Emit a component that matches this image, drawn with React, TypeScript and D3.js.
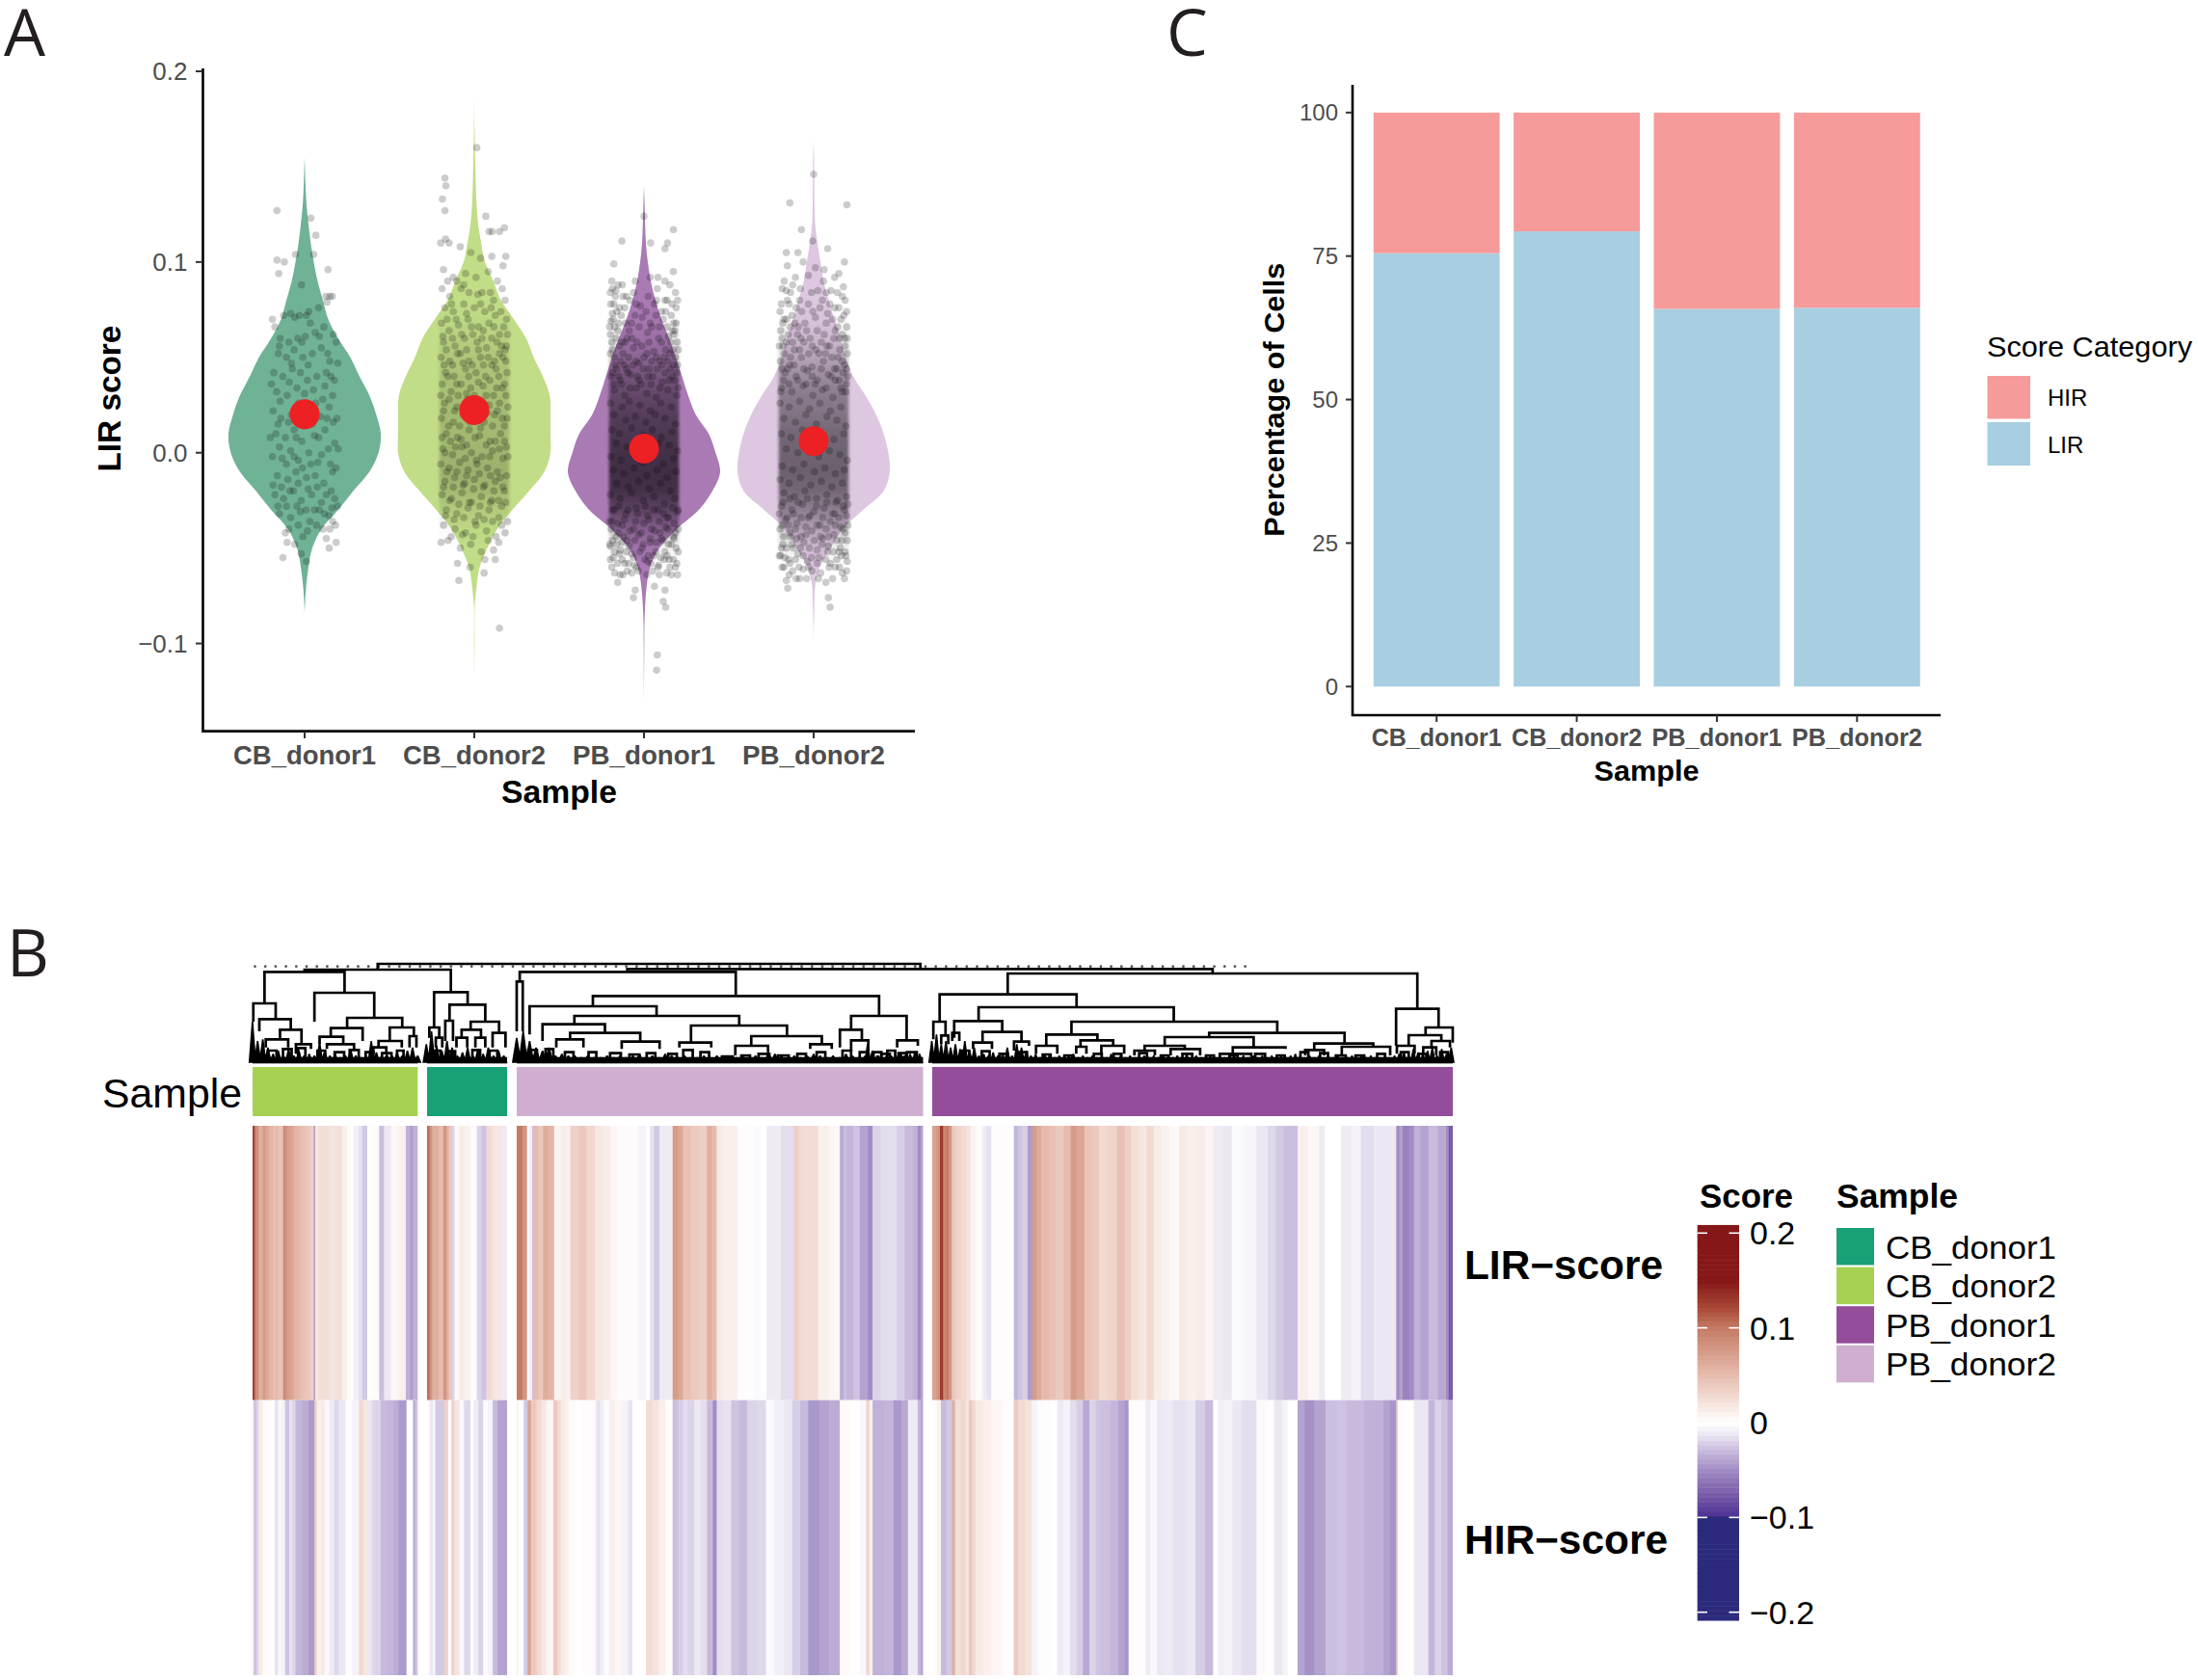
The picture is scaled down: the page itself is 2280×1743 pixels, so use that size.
import React from "react";
import * as d3 from "d3";

// ---------- shared ----------
const samples = ["CB_donor1", "CB_donor2", "PB_donor1", "PB_donor2"];
const sampleColors = ["#18a077", "#a6d153", "#944d9a", "#cfaed2"];
const violinFills = ["#70b296", "#c1dd87", "#aa7ab5", "#dec7e1"];

// ---------- panel A: density profiles [value, relative density] ----------
const violinCB1 = [[.155,0],[.15,.004],[.14,.012],[.13,.025],[.12,.05],[.11,.08],[.10,.12],[.09,.17],[.08,.24],[.07,.31],[.06,.44],[.05,.6],[.04,.72],[.03,.85],[.02,.94],[.01,1],[0,.97],[-.01,.85],[-.02,.64],[-.03,.44],[-.04,.22],[-.05,.1],[-.06,.05],[-.07,.02],[-.08,.004],[-.084,0]];
const violinCB2 = [[.186,0],[.17,.004],[.15,.014],[.14,.02],[.13,.03],[.12,.05],[.11,.09],[.10,.14],[.09,.25],[.08,.35],[.07,.52],[.06,.68],[.05,.78],[.04,.9],[.03,.99],[.02,1],[.01,1],[0,1],[-.01,.92],[-.02,.72],[-.03,.5],[-.04,.3],[-.05,.17],[-.06,.07],[-.07,.03],[-.08,.006],[-.1,.004],[-.118,0]];
const violinPB1 = [[.14,0],[.13,.008],[.12,.015],[.11,.025],[.10,.05],[.09,.09],[.08,.15],[.07,.23],[.06,.33],[.05,.42],[.04,.5],[.03,.58],[.02,.68],[.01,.85],[0,.94],[-.01,1],[-.02,.9],[-.03,.72],[-.04,.43],[-.05,.2],[-.06,.08],[-.07,.035],[-.08,.015],[-.09,.006],[-.1,.004],[-.13,0]];
const violinPB2 = [[.164,0],[.15,.008],[.13,.012],[.12,.02],[.11,.05],[.10,.09],[.09,.13],[.08,.2],[.07,.27],[.06,.35],[.05,.42],[.04,.52],[.03,.68],[.02,.82],[.01,.92],[0,.98],[-.01,1],[-.02,.92],[-.03,.65],[-.04,.38],[-.05,.22],[-.06,.08],[-.07,.02],[-.08,.01],[-.1,0]];
const violins = [violinCB1, violinCB2, violinPB1, violinPB2];
const means = [.0202, .0224, .0022, .0061];

// cloud darkness per value level
const shadeLevels = [.09,.08,.07,.06,.05,.04,.03,.02,.01,0,-.01,-.02,-.03,-.04,-.05,-.06];
const shadeCB1 = [0,0,0,0,0,0,0,0,0,0,0,0,0,0,0,0];
const shadeCB2 = [0,0,.02,.06,.1,.12,.14,.16,.16,.18,.2,.16,.08,.02,0,0];
const shadePB1 = [0,0,.02,.08,.18,.32,.42,.5,.55,.6,.62,.6,.45,.22,.05,0];
const shadePB2 = [0,0,.02,.08,.18,.3,.38,.42,.48,.5,.52,.48,.36,.2,.06,0];
const shades = [shadeCB1, shadeCB2, shadePB1, shadePB2];

// individual visible points: flat [jitter %, value in thousandths, ...]
const ptsCB1 = [-79,127,18,123,32,114,-79,101,-58,100,-74,94,-26,104,26,104,67,96,-9,88,61,82,79,82,72,82,-92,70,-60,72,-40,73,-28,71,-15,72,5,72,12,74,40,76,64,79,-85,66,-70,60,-45,58,-20,60,2,61,30,63,55,66,82,62,-75,52,-52,50,-30,54,-5,50,22,52,48,55,72,48,90,58,-88,42,-62,40,-35,44,-12,42,10,46,35,40,62,42,85,38,-80,32,-50,30,-22,34,0,31,25,33,52,28,80,30,-90,22,-68,18,-38,20,18,22,45,19,70,24,92,18,-82,10,-55,8,-30,12,-8,6,28,9,58,12,86,5,-92,-2,-64,-3,-40,1,-18,-4,12,0,38,-5,68,2,90,-8,-78,-12,-48,-14,-25,-10,5,-13,30,-12,55,-16,80,-10,-85,-22,-60,-24,-32,-20,-10,-25,20,-22,48,-26,76,-20,94,-28,-72,-32,-40,-34,-12,-31,15,-36,42,-30,70,-33,88,-38,-55,-42,-28,-48,-5,-44,62,-45,80,-36,-50,-47,90,-47,-62,-55,-10,-53,5,-57,70,-50,
-72,56,-38,47,-8,58,16,68,42,61,66,52,95,47,-95,36,-70,27,-44,37,-16,26,8,38,32,26,58,35,75,40,-76,15,-46,16,-24,8,-2,14,22,15,40,8,64,18,82,16,-98,8,-72,3,-52,-6,-30,-2,-6,-8,18,-6,48,-1,74,-6,96,2,-90,-17,-66,-18,-42,-20,-18,-16,10,-19,36,-18,62,-22,86,-24,-76,-28,-52,-28,-22,-28,4,-30,28,-30,56,-32,78,-29,-45,-40,-18,-38,8,-41,34,-38,52,-40,72,-40];
const ptsCB2 = [7,160,-84,144,-81,140,-91,133,-84,127,33,124,51,116,86,118,42,116,72,116,-96,110,-82,112,-72,110,-40,108,-10,105,18,102,50,103,82,98,90,103,-88,96,-60,92,-50,90,-25,94,5,92,40,95,66,90,80,86,-92,86,-70,82,-38,86,-15,84,22,84,55,80,88,80,-84,76,-60,74,-30,78,0,76,30,74,60,72,92,70,-94,68,-72,64,-45,67,-18,70,12,66,42,68,72,62,95,62,-88,58,-55,56,-28,60,8,58,35,55,65,58,88,54,-95,50,-70,48,-40,52,-15,48,18,50,50,46,82,50,-82,42,-58,40,-25,44,5,42,32,40,62,44,94,42,-92,36,-66,32,-38,36,-10,34,25,35,55,30,80,34,-85,26,-50,24,-20,28,10,26,42,25,72,26,96,24,-94,18,-60,16,-32,20,-5,18,28,16,58,20,86,14,-80,10,-48,8,-15,12,15,9,45,6,75,10,92,3,-90,2,-62,-1,-35,3,-8,0,22,-2,52,1,82,-3,-96,-6,-72,-8,-42,-5,-18,-9,8,-6,38,-8,66,-10,92,-12,-84,-15,-56,-13,-28,-16,0,-14,30,-17,60,-15,86,-20,-92,-22,-65,-24,-35,-21,-8,-26,20,-23,50,-25,78,-28,-80,-30,-50,-32,-18,-29,12,-33,42,-30,70,-34,95,-36,-88,-38,-55,-40,-25,-42,5,-38,35,-41,62,-44,88,-42,-95,-47,-75,-46,-40,-50,-10,-48,20,-52,55,-51,-48,-58,-12,-60,30,-56,-44,-67,28,-63,60,-56,72,-92,
-76,90,-30,88,10,83,46,84,-65,78,-22,73,18,78,48,76,76,74,-78,70,-52,70,-8,66,26,64,56,66,84,66,-90,61,-62,60,-36,62,-4,62,22,60,50,60,78,56,-80,54,-48,52,-22,54,12,54,40,50,72,52,92,56,-86,46,-62,46,-32,47,-6,46,26,46,58,48,90,48,-76,40,-50,36,-16,40,12,37,44,38,70,40,86,36,-96,30,-72,28,-46,30,-22,31,0,30,34,30,64,34,90,30,-88,22,-56,22,-26,24,4,22,36,21,66,22,94,18,-74,14,-42,14,-12,16,18,13,52,14,80,18,-92,8,-68,6,-38,7,-22,4,2,8,34,4,60,6,86,6,-84,0,-54,3,-26,-3,6,-4,44,-2,72,2,96,-2,-78,-10,-50,-10,-22,-12,14,-11,46,-12,74,-13,-88,-18,-60,-18,-32,-17,-2,-19,26,-18,56,-20,82,-18,-70,-25,-44,-27,-14,-26,16,-28,46,-26,70,-25,90,-26,-82,-33,-58,-35,-30,-34,2,-36,28,-35,52,-36,78,-38,-66,-44,-34,-43,-4,-44,40,-46,70,-47];
const ptsPB1 = [0,124,-63,111,84,117,67,110,19,110,60,107,-86,99,-90,86,-80,85,-62,88,-50,82,-25,90,18,92,38,86,60,90,84,95,66,80,-95,78,-70,76,-40,80,-10,77,30,78,50,74,92,76,-88,70,-65,72,-35,68,-5,71,22,66,55,70,85,68,-96,62,-75,64,-48,60,-20,58,10,63,42,60,70,61,95,58,-90,54,-60,52,-30,55,0,50,28,53,58,50,82,54,-82,46,-50,44,-15,47,15,44,45,48,75,44,96,46,-94,40,-68,38,-38,41,-8,36,25,40,52,37,88,38,-84,33,-55,30,-22,34,8,31,35,29,68,33,94,30,-96,26,-62,24,-42,27,-12,25,18,22,48,26,78,24,-86,20,-52,17,-25,19,5,16,32,20,60,18,90,15,-92,12,-70,10,-35,13,-2,9,24,12,50,8,80,11,-80,5,-48,3,-18,6,12,2,42,5,72,4,96,1,-95,-2,-65,-4,-32,-1,-5,-5,20,-2,55,-6,85,-3,-88,-9,-58,-11,-28,-8,8,-12,38,-9,66,-13,92,-10,-78,-16,-45,-18,-15,-15,15,-19,48,-16,76,-20,-96,-22,-68,-24,-36,-21,-2,-25,28,-23,58,-27,88,-24,-85,-30,-52,-32,-22,-29,10,-33,40,-30,70,-34,96,-31,-92,-36,-62,-38,-30,-40,0,-37,30,-41,62,-39,90,-42,-80,-44,-48,-46,-15,-43,18,-47,50,-45,78,-48,-96,-49,-68,-51,-35,-53,-5,-50,28,-54,60,-52,92,-50,-88,-55,-55,-58,-22,-60,10,-57,42,-59,72,-56,-92,-60,-60,-64,-35,-63,25,-62,65,-63,90,-60,-75,-68,-25,-72,30,-70,60,-72,-30,-76,55,-78,62,-81,38,-106,36,-114,
-92,90,-82,82,-74,88,-96,84,-86,78,-60,82,-30,84,40,92,74,88,90,84,-78,74,-90,73,-55,76,-22,78,12,82,36,80,60,80,80,78,96,80,-84,66,-72,68,-94,69,-52,68,-26,72,6,74,34,72,62,74,78,72,88,64,-98,66,-80,60,-62,58,-42,64,-14,66,18,68,44,66,66,66,82,64,92,68,-92,58,-70,56,-54,58,-34,60,-6,56,14,58,50,58,76,58,86,62,98,54,-84,50,-66,48,-44,50,-22,48,8,52,36,50,62,54,74,52,90,50,-96,52,-78,44,-56,46,-32,46,-2,44,22,48,52,46,68,48,84,46,-90,42,-72,40,-46,42,-18,40,12,40,38,44,60,42,80,40,94,42,-86,36,-64,36,-40,34,-14,38,20,36,46,34,72,38,98,34,
-90,-30,-72,-28,-46,-30,-18,-32,4,-28,28,-30,56,-32,82,-29,98,-30,-98,-36,-76,-37,-56,-35,-24,-36,14,-35,44,-36,66,-34,86,-37,-94,-40,-74,-42,-58,-44,-40,-41,-8,-42,22,-40,46,-42,68,-40,84,-44,98,-40,-90,-46,-78,-48,-62,-47,-42,-49,-26,-46,-2,-48,18,-45,36,-47,54,-46,70,-48,86,-45,-98,-48,-84,-52,-70,-53,-50,-52,-30,-55,-12,-52,12,-54,34,-52,48,-55,66,-54,84,-56,98,-52,-96,-56,-76,-58,-62,-56,-44,-58,-28,-59,2,-56,20,-58,40,-60,58,-56,74,-60,94,-58,-84,-63,-68,-64,-48,-62,-16,-62,8,-64,44,-64,78,-64,96,-64];
const ptsPB2 = [0,146,-68,131,95,130,-35,117,-3,111,-78,105,-45,105,40,107,-75,98,-30,100,5,97,88,100,-15,93,28,90,60,92,-90,86,-78,85,-60,88,-38,86,12,85,50,85,85,87,-92,78,-75,80,-50,76,-15,78,25,80,60,76,90,80,-85,70,-62,72,-25,68,5,71,40,73,78,70,95,66,-94,64,-72,62,-44,66,-10,60,30,62,62,64,88,60,-88,56,-55,54,-28,58,15,52,45,56,75,54,96,52,-95,48,-68,46,-35,50,-5,45,28,48,60,44,88,46,-82,42,-50,40,-18,43,10,38,42,41,72,38,94,36,-92,34,-62,32,-30,35,-2,30,25,33,55,29,82,32,-96,26,-70,24,-40,27,-12,23,18,26,48,22,78,24,-85,18,-52,16,-22,20,8,15,38,19,66,17,92,14,-92,10,-65,8,-32,12,-5,6,28,9,58,7,86,10,-78,2,-45,0,-15,3,15,-2,45,1,75,-1,96,-4,-90,-7,-60,-9,-28,-6,2,-10,32,-8,62,-11,88,-9,-96,-14,-70,-16,-38,-13,-8,-17,22,-15,52,-18,82,-16,-85,-21,-55,-23,-25,-20,8,-24,38,-22,68,-25,94,-23,-92,-28,-62,-30,-32,-27,0,-31,30,-29,60,-32,88,-30,-80,-35,-48,-37,-15,-34,18,-38,48,-36,78,-39,-96,-40,-68,-42,-36,-44,-5,-41,25,-45,58,-43,90,-42,-88,-48,-58,-50,-28,-47,10,-51,42,-49,72,-52,-94,-54,-72,-56,-45,-53,-18,-57,15,-55,48,-58,80,-54,96,-57,-85,-60,-60,-62,-30,-61,20,-63,62,-60,82,-63,-78,-67,-40,-66,-5,-62,35,-68,-74,-71,42,-76,47,-81,
-84,90,-66,84,-52,92,30,96,72,94,82,82,-70,78,-96,74,-40,80,-6,84,36,84,68,84,94,74,-78,70,-54,68,-34,74,-2,74,18,76,46,78,72,76,86,72,-88,68,-66,66,-46,62,-20,64,10,64,36,68,54,70,68,66,82,62,96,60,-90,60,-78,58,-60,58,-36,60,-4,56,22,58,38,56,58,60,74,60,90,56,-98,56,-84,52,-66,50,-40,54,-14,52,6,54,34,52,52,50,70,50,82,48,94,44,-90,44,-74,44,-56,46,-28,44,-4,40,22,44,50,40,66,44,84,42,98,40,-86,38,-70,36,-46,38,-22,36,4,36,36,34,62,38,78,34,92,32,-94,32,
-88,-26,-68,-24,-44,-26,-18,-24,8,-28,38,-26,64,-26,84,-28,98,-27,-98,-32,-76,-34,-58,-32,-36,-34,-10,-33,26,-34,54,-32,72,-34,94,-33,-90,-38,-72,-38,-52,-40,-22,-39,10,-38,36,-40,62,-38,84,-40,98,-38,-86,-44,-66,-44,-48,-45,-22,-43,2,-46,20,-44,42,-44,66,-46,80,-46,96,-46,-92,-50,-78,-50,-62,-48,-38,-50,-12,-50,24,-48,40,-52,56,-52,76,-50,90,-52,-98,-54,-82,-55,-52,-56,-30,-54,-6,-55,34,-56,66,-56,92,-54,-90,-60,-68,-58,-42,-60,-14,-60,10,-58,44,-60,74,-60,94,-62,-70,-64,-50,-66,-20,-66,14,-66,54,-66,88,-66];
const pointSets = [ptsCB1, ptsCB2, ptsPB1, ptsPB2];

// ---------- panel C ----------
const lirPercent = [75.5, 79.3, 65.8, 66.0];
const percentTicks = [0, 25, 50, 75, 100];
const categories = ["HIR", "LIR"];
const categoryColors = ["#f69a9a", "#a8cee1"];

// ---------- panel B: stripes [end position along the reading, score] ----------
const lirBlock1 = [[21,.12],[26,.13],[30,.105],[40,.085],[52,.06],[62,.075],[72,.065],[85,.055],[92,.048],[100,.052],[116,.045],[122,.09],[130,.08],[140,.072],[150,.066],[165,.055],[175,.05],[185,.046],[200,.042],[212,.035],[215,-.06],[225,.018],[235,.024],[260,.025],[280,.02],[300,.023],[315,.012],[325,.004],[335,.001],[350,-.008],[362,-.014],[378,-.024],[400,.002],[415,.004],[430,-.028],[452,-.012],[470,.005],[480,.009],[498,.012],[512,-.035],[520,-.044],[535,-.034]];
const hirBlock1 = [[21,.014],[25,.014],[32,-.028],[40,-.02],[52,.014],[70,.004],[90,.002],[100,-.014],[112,-.004],[122,-.006],[135,-.026],[145,-.014],[155,-.02],[175,-.032],[195,-.036],[214,-.044],[222,.032],[235,.012],[245,.016],[260,-.004],[275,-.01],[290,-.018],[310,-.012],[330,.002],[352,-.006],[366,.028],[378,.018],[392,-.012],[400,-.018],[420,-.02],[440,-.03],[460,-.032],[475,-.036],[500,-.044],[520,.002],[528,-.034],[535,-.026]];
const lirBlock2 = [[564,.09],[572,.105],[580,.08],[600,.06],[615,.05],[625,.08],[632,.06],[642,.042],[650,-.02],[665,.005],[680,.014],[700,.01],[720,.003],[735,-.02],[750,-.026],[765,.028],[775,.022],[800,.018],[815,-.01]];
const hirBlock2 = [[564,.003],[572,.003],[582,-.012],[590,-.006],[618,-.024],[630,.034],[640,.002],[650,.034],[665,.02],[680,-.004],[700,-.018],[710,.003],[725,-.01],[740,-.02],[755,.004],[770,-.006],[785,-.03],[815,-.04]];
const lirBlock3 = [[18,.09],[36,.1],[50,.08],[55,.0],[66,-.008],[72,-.028],[85,.05],[100,.042],[115,.062],[130,.056],[135,.05],[155,.008],[170,.014],[185,.012],[210,.034],[235,.04],[262,.03],[285,.018],[310,.014],[335,.005],[395,.003],[420,-.006],[432,0],[445,-.014],[462,-.024],[503,-.01],[520,.074],[535,.066],[560,.046],[585,.04],[610,.036],[625,.06],[640,.05],[660,.016],[705,.012],[755,.002],[775,-.003],[795,-.001],[840,-.01],[880,-.016],[895,.036],[910,.028],[955,.026],[990,.012],[1023,.006],[1035,-.036],[1045,-.028],[1065,-.032],[1085,-.026],[1110,-.04],[1125,-.05],[1150,-.02],[1175,-.016],[1200,-.016],[1225,-.022],[1250,-.03],[1265,-.034],[1275,-.05],[1282,-.04]];
const hirBlock3 = [[18,.012],[22,.012],[32,0],[40,-.002],[52,-.024],[62,.07],[80,.04],[95,.028],[110,.018],[132,.007],[145,.04],[155,.026],[170,.014],[180,.01],[200,.004],[220,0],[245,.002],[265,.003],[278,-.014],[290,-.008],[305,-.002],[325,.012],[345,.006],[365,-.006],[378,-.014],[420,0],[440,.026],[460,.02],[480,.012],[503,.003],[520,-.028],[535,-.022],[550,-.016],[570,-.02],[590,-.012],[610,-.016],[628,-.03],[640,-.05],[660,-.016],[685,-.014],[710,-.026],[735,-.03],[765,-.02],[793,-.018],[820,-.003],[850,-.008],[875,-.012],[900,-.022],[925,-.03],[960,-.045],[990,-.04],[1023,-.036],[1053,.004],[1085,.002],[1105,-.004],[1115,.032],[1125,.01],[1160,-.034],[1190,-.032],[1215,-.045],[1235,-.038],[1265,-.01],[1275,-.032],[1282,-.04]];
const lirBlock4 = [[21,.07],[35,.07],[45,.08],[55,.13],[64,.09],[72,.1],[82,.08],[95,.04],[110,.032],[125,.028],[140,.022],[155,.01],[178,.004],[190,-.01],[205,-.014],[250,.002],[275,-.002],[288,-.032],[300,-.026],[318,-.022],[332,-.044],[345,.075],[360,.064],[385,.052],[405,.046],[430,.04],[452,.05],[470,.075],[495,.066],[520,.044],[540,.04],[565,.028],[595,.032],[620,.046],[640,.036],[665,.024],[688,.018],[710,.028],[735,.014],[760,.01],[790,.005],[815,.016],[840,.012],[870,.014],[895,.008],[925,-.01],[953,-.012],[990,-.003],[1030,-.005],[1065,-.012],[1090,-.018],[1115,-.024],[1158,-.028],[1190,.012],[1225,.006],[1243,-.01],[1293,0],[1325,-.01],[1355,-.006],[1395,-.016],[1430,-.012],[1465,-.012],[1475,-.05],[1485,-.042],[1505,-.055],[1520,-.05],[1540,-.034],[1565,-.04],[1595,-.03],[1620,-.038],[1628,-.05],[1641,-.075]];
const hirBlock4 = [[21,.008],[35,.002],[48,.01],[65,-.03],[82,-.024],[92,.06],[110,.024],[125,.03],[135,.02],[145,.04],[155,.03],[180,.016],[205,.012],[240,.006],[275,.002],[288,.04],[310,.028],[330,.022],[350,-.006],[370,-.002],[390,.002],[410,0],[430,-.01],[450,-.006],[470,-.016],[490,-.022],[510,-.038],[530,-.02],[545,-.026],[575,-.028],[600,-.032],[620,-.04],[632,-.046],[660,.003],[685,.002],[700,-.01],[720,-.004],[745,-.012],[770,-.01],[810,-.014],[840,-.012],[870,-.022],[895,-.03],[910,.0],[930,-.008],[955,-.006],[985,-.012],[1030,-.016],[1060,.004],[1085,.002],[1110,-.012],[1127,-.006],[1158,0],[1180,-.04],[1210,-.048],[1245,-.04],[1280,-.028],[1310,-.026],[1340,-.03],[1365,-.03],[1395,-.034],[1425,-.034],[1445,-.04],[1465,-.046],[1470,.034],[1490,.003],[1520,.001],[1540,-.012],[1565,-.012],[1585,-.032],[1605,-.02],[1625,-.026],[1641,-.036]];
const blockOrder = [1, 0, 3, 2]; // sample index of each block, left to right
const lirRows = [lirBlock1, lirBlock2, lirBlock3, lirBlock4];
const hirRows = [hirBlock1, hirBlock2, hirBlock3, hirBlock4];
const scoreTicks = [.2, .1, 0, -.1, -.2];
const scoreTickLabels = ["0.2", "0.1", "0", "\u22120.1", "\u22120.2"];

// dendrogram merges [left, right, top, leftChildTop, rightChildTop] in reading units
const mergesLeft = [
[340,1601,60,75,72],[170,510,78,85,148],[77,263,85,183,150],[51,103,183,240,232],[65,138,232,270,265],[113,163,265,295,310],[80,132,295,320,320],[193,332,150,240,228],[269,397,228,260,258],[231,305,260,287,300],[205,260,287,310,310],[222,285,310,325,325],[368,424,258,300,285],[342,396,300,320,320],[414,430,285,320,320],[330,360,320,340,340],[150,185,310,340,325],
[471,549,148,258,187],[507,590,187,237,240],[497,515,237,300,300],[556,622,240,265,275],[535,580,265,290,290],[523,548,290,320,320],[567,590,290,320,320],[607,637,275,320,320],[460,483,258,290,290],[475,490,290,320,320],
[920,2280,76,85,90],[670,1172,85,115,160],[663,677,115,270,270],[840,1505,160,192,222],[693,988,192,280,222],[797,1180,222,248,252],[723,868,248,300,275],[787,950,275,295,302],[755,818,295,320,320],[907,995,302,325,325],[1068,1291,252,305,285],[1041,1115,305,320,320],[1208,1372,285,315,310],[1171,1247,315,345,335],[1345,1395,310,325,325],[1440,1569,222,265,298],[1414,1465,265,320,298],[1440,1480,298,330,330],[1547,1595,298,320,315],
[85,105,330,352,352],[120,140,325,352,352],[155,172,322,352,352],[200,218,330,352,352],[240,262,335,352,352],[275,296,328,352,352],[312,330,335,352,352],[350,372,338,352,352],[385,400,330,352,352],[470,486,330,352,352],[505,520,332,352,352],[560,578,328,352,352],[600,618,330,352,352],[690,710,328,352,352],[730,748,325,352,352],[775,795,335,352,352],[830,848,335,352,352],[880,905,338,352,352],[925,948,342,352,352],[965,985,338,352,352],[1015,1035,340,352,352],[1050,1072,328,352,352],[1090,1110,335,352,352],[1140,1165,348,358,358],[1185,1205,345,358,358],[1225,1250,340,352,352],[1270,1295,345,358,358],[1315,1335,340,352,352],[1360,1380,335,352,352],[1420,1440,330,352,352],[1460,1480,335,352,352],[1510,1530,340,352,352],[1550,1568,338,352,352]];
const mergesRight = [
[356,1397,90,155,200],[183,531,155,240,195],[282,778,195,238,240],[220,342,238,290,272],[292,391,272,305,302],[268,316,305,325,325],[372,410,302,330,315],[518,1041,240,280,272],[454,584,280,315,298],[428,482,315,340,340],[541,624,298,318,315],[530,556,318,340,340],[594,652,315,340,340],[868,1212,275,288,305],[755,981,288,315,320],[704,806,315,330,325],[678,730,330,345,345],[770,845,325,345,345],[928,1062,320,340,325],[895,975,340,350,350],[1135,1285,308,328,318],[1112,1160,328,345,345],[1205,1328,318,345,345],[167,198,240,295,283],[187,205,283,310,310],[215,233,275,300,300],
[1343,1451,200,315,258],[1418,1487,258,282,305],[1375,1458,282,315,300],[1345,1390,315,340,340],[1433,1480,300,320,320],[1412,1445,320,345,345],
[15,35,335,352,352],[50,70,330,352,352],[100,125,335,352,352],[240,258,330,352,352],[290,310,332,352,352],[335,355,340,352,352],[385,405,335,352,352],[445,465,342,352,352],[500,520,345,358,358],[575,595,340,352,352],[625,645,340,352,352],[690,710,338,352,352],[745,765,345,358,358],[800,825,340,352,352],[860,880,345,358,358],[920,940,345,358,358],[985,1010,340,352,352],[1040,1060,345,358,358],[1100,1120,335,352,352],[1150,1170,338,352,352],[1190,1215,345,358,358],[1240,1262,345,358,358],[1295,1315,340,352,352],[1355,1375,335,352,352],[1400,1420,340,352,352],[1455,1475,335,352,352]];
// canopy of the smallest merges: [start, step, heights]
const canopyLeft = [
[49,12,[240,300,295,320,340,330,345,325,345,330,345,340,345,305,330,345,340,350,345,325,345,350,345,300,335,345,340,345,335,345,330,320,345]],
[453,12,[310,270,315,330,300,320,345,335,320,345,325,340,320,345,330,345]],
[663,15,[290,270,300,320,330,320,345,340,345,345,350,345,350,350,345,350,345,350,345,340,350,345,350,340,345,350,345,350,350,345,350,345,350,345,350,345,350,345,350,335,340,345,350,345,350,345,340,345,350,345,350,340,345,350,345,350,345,350,345,350,345]]];
const canopyRight = [
[0,12,[310,330,345,350,345,350,345,335,345,340,335,340]],
[163,12,[300,280,310,300,320,310,325,300,330,320,345,340,345,335,345,340,320,345,310,320,330,345,340,350,345,340,350,345,350,345,340,350,345,350,345,350,345,350,340,350,345,350,345,350,350,345,350,345,350,345,350,350,345,350,340,350,345,350,350,345,350,345,350,345,345,350,345,350,345,350,345,350,345,350,345,350,345,340,345,350,345,350,345,350,345,350,345,350,350,345,350,345,350,345,350,350,345,350,345,340,335,345,325,335,340,330,320,345,325,340,320]]];

// ---------- helpers ----------
const FONT = "'Liberation Sans', Arial, sans-serif";
function T({ x, y, s, size, bold, fill = "#000", anchor = "start", len, rot, font = FONT }: any) {
  return (
    <text x={x} y={y} fontFamily={font} fontSize={size} fontWeight={bold ? 700 : 400} fill={fill} textAnchor={anchor}
      dominantBaseline="central" textLength={len} lengthAdjust={len ? "spacingAndGlyphs" : undefined}
      transform={rot ? `rotate(${rot} ${x} ${y})` : undefined}>{s}</text>
  );
}

function PanelA() {
  const y = d3.scaleLinear().domain([-.1, .2]).range([667.6, 74]);
  const x = d3.scalePoint().domain(samples).range([316, 844]);
  const hw = 79;
  const jitter = 36.3;
  return (
    <g>
      <defs>
        <filter id="soft" x="-10%" y="-10%" width="120%" height="120%"><feGaussianBlur stdDeviation="1.5" /></filter>
        {shades.map((sh, i) => (
          <linearGradient key={i} id={`shade${i}`} x1="0" x2="0" y1="0" y2="1">
            {sh.map((o, j) => <stop key={j} offset={j / (sh.length - 1)} stopColor="#000" stopOpacity={o} />)}
          </linearGradient>
        ))}
      </defs>
      {samples.map((s, i) => {
        const c = x(s)!;
        const area = d3.area<number[]>().y(d => y(d[0])).x0(d => c - d[1] * hw).x1(d => c + d[1] * hw).curve(d3.curveCatmullRom.alpha(0.5));
        const pts = pointSets[i];
        return (
          <g key={s}>
            <path d={area(violins[i] as any) || ""} fill={violinFills[i]} />
            <rect x={c - jitter} width={jitter * 2} y={y(shadeLevels[0])} height={y(shadeLevels[shadeLevels.length - 1]) - y(shadeLevels[0])} fill={`url(#shade${i})`} filter="url(#soft)" />
            {d3.range(0, pts.length, 2).map(k => (
              <circle key={k} cx={c + pts[k] / 100 * jitter} cy={y(pts[k + 1] / 1000)} r={3.8} fill="#000" fillOpacity={0.2} />
            ))}
            <circle cx={c} cy={y(means[i])} r={15.5} fill="#ed2024" />
          </g>
        );
      })}
      <path d="M210.5,71V758.6H949" fill="none" stroke="#000" strokeWidth={2.6} />
      {[.2, .1, 0, -.1].map((t, i) => (
        <g key={t}>
          <line x1={203} x2={210} y1={y(t)} y2={y(t)} stroke="#333" strokeWidth={2} />
          <T x={194.5} y={y(t)} s={["0.2", "0.1", "0.0", "\u22120.1"][i]} size={26} anchor="end" fill="#4d4d4d" />
        </g>
      ))}
      {samples.map(s => (
        <g key={s}>
          <line x1={x(s)} x2={x(s)} y1={759} y2={766} stroke="#333" strokeWidth={2} />
          <T x={x(s)} y={784} s={s} size={27} bold anchor="middle" fill="#4d4d4d" len={148} />
        </g>
      ))}
      <T x={580} y={821} s="Sample" size={33} bold anchor="middle" len={120} />
      <T x={113.5} y={413.6} s="LIR score" size={33} bold anchor="middle" rot={-90} len={152} />
    </g>
  );
}

function PanelC() {
  const y = d3.scaleLinear().domain([0, 100]).range([712.3, 116.8]);
  const x = d3.scaleBand().domain(samples).range([1417.5, 1999]).paddingInner(0.1).paddingOuter(0.05);
  const stack = d3.stack<any>().keys(["LIR", "HIR"])(lirPercent.map(v => ({ LIR: v, HIR: 100 - v })));
  return (
    <g>
      {stack.map((layer, li) => layer.map((d, i) => (
        <rect key={`${li}-${i}`} x={x(samples[i])} width={x.bandwidth()} y={y(d[1])} height={y(d[0]) - y(d[1])}
          fill={layer.key === "HIR" ? categoryColors[0] : categoryColors[1]} />
      )))}
      <path d="M1403,88V742H2013" fill="none" stroke="#000" strokeWidth={2.6} />
      {percentTicks.map(t => (
        <g key={t}>
          <line x1={1396} x2={1403} y1={y(t)} y2={y(t)} stroke="#333" strokeWidth={2} />
          <T x={1388} y={y(t)} s={t} size={24} anchor="end" fill="#4d4d4d" />
        </g>
      ))}
      {samples.map(s => (
        <g key={s}>
          <line x1={x(s)! + x.bandwidth() / 2} x2={x(s)! + x.bandwidth() / 2} y1={742} y2={749} stroke="#333" strokeWidth={2} />
          <T x={x(s)! + x.bandwidth() / 2} y={765} s={s} size={25} bold anchor="middle" fill="#4d4d4d" len={135} />
        </g>
      ))}
      <T x={1708} y={799} s="Sample" size={30} bold anchor="middle" len={109} />
      <T x={1322} y={414.7} s="Percentage of Cells" size={30} bold anchor="middle" rot={-90} len={284} />
      <T x={2061} y={359} s="Score Category" size={30} len={213} />
      {categories.map((c, i) => (
        <g key={c}>
          <rect x={2061.5} width={44.5} y={i === 0 ? 390 : 438} height={i === 0 ? 44.5 : 45} fill={categoryColors[i]} />
          <T x={2124} y={i === 0 ? 412.5 : 461} s={c} size={24} />
        </g>
      ))}
    </g>
  );
}

function PanelB() {
  const blocks = [[262, 433.3], [443, 526], [536, 957.5], [967, 1507]];
  const color = d3.scaleLinear<string>()
    .domain([-.2, -.1001, -.1, -.075, -.05, -.025, -.0125, 0, .05, .1, .12, .15, .2])
    .range(["#2b2a7c", "#2b2a7c", "#4a2f93", "#7a5ca8", "#a28cc5", "#d0c6e2", "#ebe6f2", "#ffffff", "#e7bcae", "#c47a64", "#aa4b38", "#861718", "#861718"]);
  const rows: [any[][], number, number][] = [[lirRows, 1168, 1452.7], [hirRows, 1452.7, 1738]];
  const lx = d3.scaleLinear().domain([0, 1568]).range([240, 940]);
  const rx = d3.scaleLinear().domain([0, 1568]).range([900, 1540]);
  const hy = d3.scaleLinear().domain([0, 1500]).range([980, 1480]);
  const u = (m: number[], sx: any) => `M${sx(m[0])},${hy(m[3])}V${hy(m[2])}H${sx(m[1])}V${hy(m[4])}`;
  const canopy = (c: any, sx: any) => {
    const halfStep = Math.abs(sx(c[1]) - sx(0)) * 0.75;
    const d = c[2].map((h: number, i: number) => {
      const xm = sx(c[0] + i * c[1]);
      return `M${xm - halfStep},${hy(368)}L${xm - .8},${hy(h)}L${xm + .8},${hy(h)}L${xm + halfStep},${hy(368)}Z`;
    }).join("");
    return <path key={c[0]} d={d} fill="#000" />;
  };
  const bar = d3.scaleLinear().domain([-.2, .2]).range([1672.7, 1279.3]);
  const barTop = .2085;
  const bands = d3.range(-barTop, barTop, .005);
  return (
    <g>
      <defs>
        <filter id="stripeBlur" filterUnits="userSpaceOnUse" x="250" y="1160" width="1270" height="590">
          <feGaussianBlur stdDeviation="0.7 0" />
        </filter>
      </defs>
      {/* dendrogram */}
      {d3.range(97).map(i => <circle key={i} cx={264.5 + i * 10.7} cy={1002.7} r={1.4} fill="#555" />)}
      {canopyLeft.map(c => canopy(c, lx))}
      {canopyRight.map(c => canopy(c, rx))}
      {blocks.map((b, i) => <rect key={i} x={b[0]} width={b[1] - b[0]} y={hy(350)} height={hy(370) - hy(350)} fill="#000" />)}
      <g fill="none" stroke="#000" strokeWidth={2.7}>
        {mergesLeft.map((m, i) => <path key={i} d={u(m, lx)} />)}
        {mergesRight.map((m, i) => <path key={i} d={u(m, rx)} />)}
      </g>
      {/* annotation */}
      {blocks.map((b, i) => <rect key={i} x={b[0]} width={b[1] - b[0]} y={1107} height={51} fill={sampleColors[blockOrder[i]]} />)}
      <T x={251} y={1134} s="Sample" size={42} anchor="end" len={145} />
      {/* heat rows */}
      <g filter="url(#stripeBlur)">
        {rows.map(([data, y0, y1], r) => blocks.map((b, i) => {
          const d = data[i];
          const sx = d3.scaleLinear().domain([d[0][0], d[d.length - 1][0]]).range(b);
          return d.slice(1).map((c, k) => (
            <rect key={`${r}-${i}-${k}`} x={sx(d[k][0])} width={sx(c[0]) - sx(d[k][0]) + (k < d.length - 2 ? .6 : 0)} y={y0} height={y1 - y0} fill={color(c[1])} />
          ));
        }))}
      </g>
      <T x={1519} y={1312} s={"LIR\u2212score"} size={42} bold len={206} />
      <T x={1519} y={1597} s={"HIR\u2212score"} size={42} bold len={211} />
      {/* colour bar */}
      <T x={1763} y={1240} s="Score" size={35} bold len={97} />
      {bands.map((v, i) => {
        const top = Math.min(v + .005, barTop);
        return <rect key={i} x={1760.7} width={43.3} y={bar(top)} height={bar(v) - bar(top) + .5} fill={color(v + .0025)} />;
      })}
      {scoreTicks.map((t, i) => (
        <g key={t}>
          <line x1={1760.7} x2={1771} y1={bar(t)} y2={bar(t)} stroke="#fff" strokeWidth={1.6} />
          <line x1={1793.5} x2={1804} y1={bar(t)} y2={bar(t)} stroke="#fff" strokeWidth={1.6} />
          <T x={1815} y={bar(t)} s={scoreTickLabels[i]} size={34} />
        </g>
      ))}
      <T x={1905} y={1240} s="Sample" size={35} bold len={126} />
      {samples.map((s, i) => (
        <g key={s}>
          <rect x={1905} width={39} y={1274 + i * 40.6} height={38.5} fill={sampleColors[i]} />
          <T x={1956} y={1294 + i * 40.6} s={s} size={33.6} len={177} />
        </g>
      ))}
    </g>
  );
}

export default function App() {
  const letter = "'Open Sans', sans-serif";
  return (
    <svg width={2280} height={1743} viewBox="0 0 2280 1743" style={{ position: "absolute", left: 0, top: 0, display: "block", background: "#fff" }}>
      <PanelA />
      <PanelC />
      <PanelB />
      {[["A", 4, 58], ["C", 1210, 58], ["B", 7, 1013]].map(([s, x, y]) => (
        <text key={s as string} x={x as number} y={y as number} fontFamily={letter} fontSize={68} fill="#231f20">{s}</text>
      ))}
    </svg>
  );
}
